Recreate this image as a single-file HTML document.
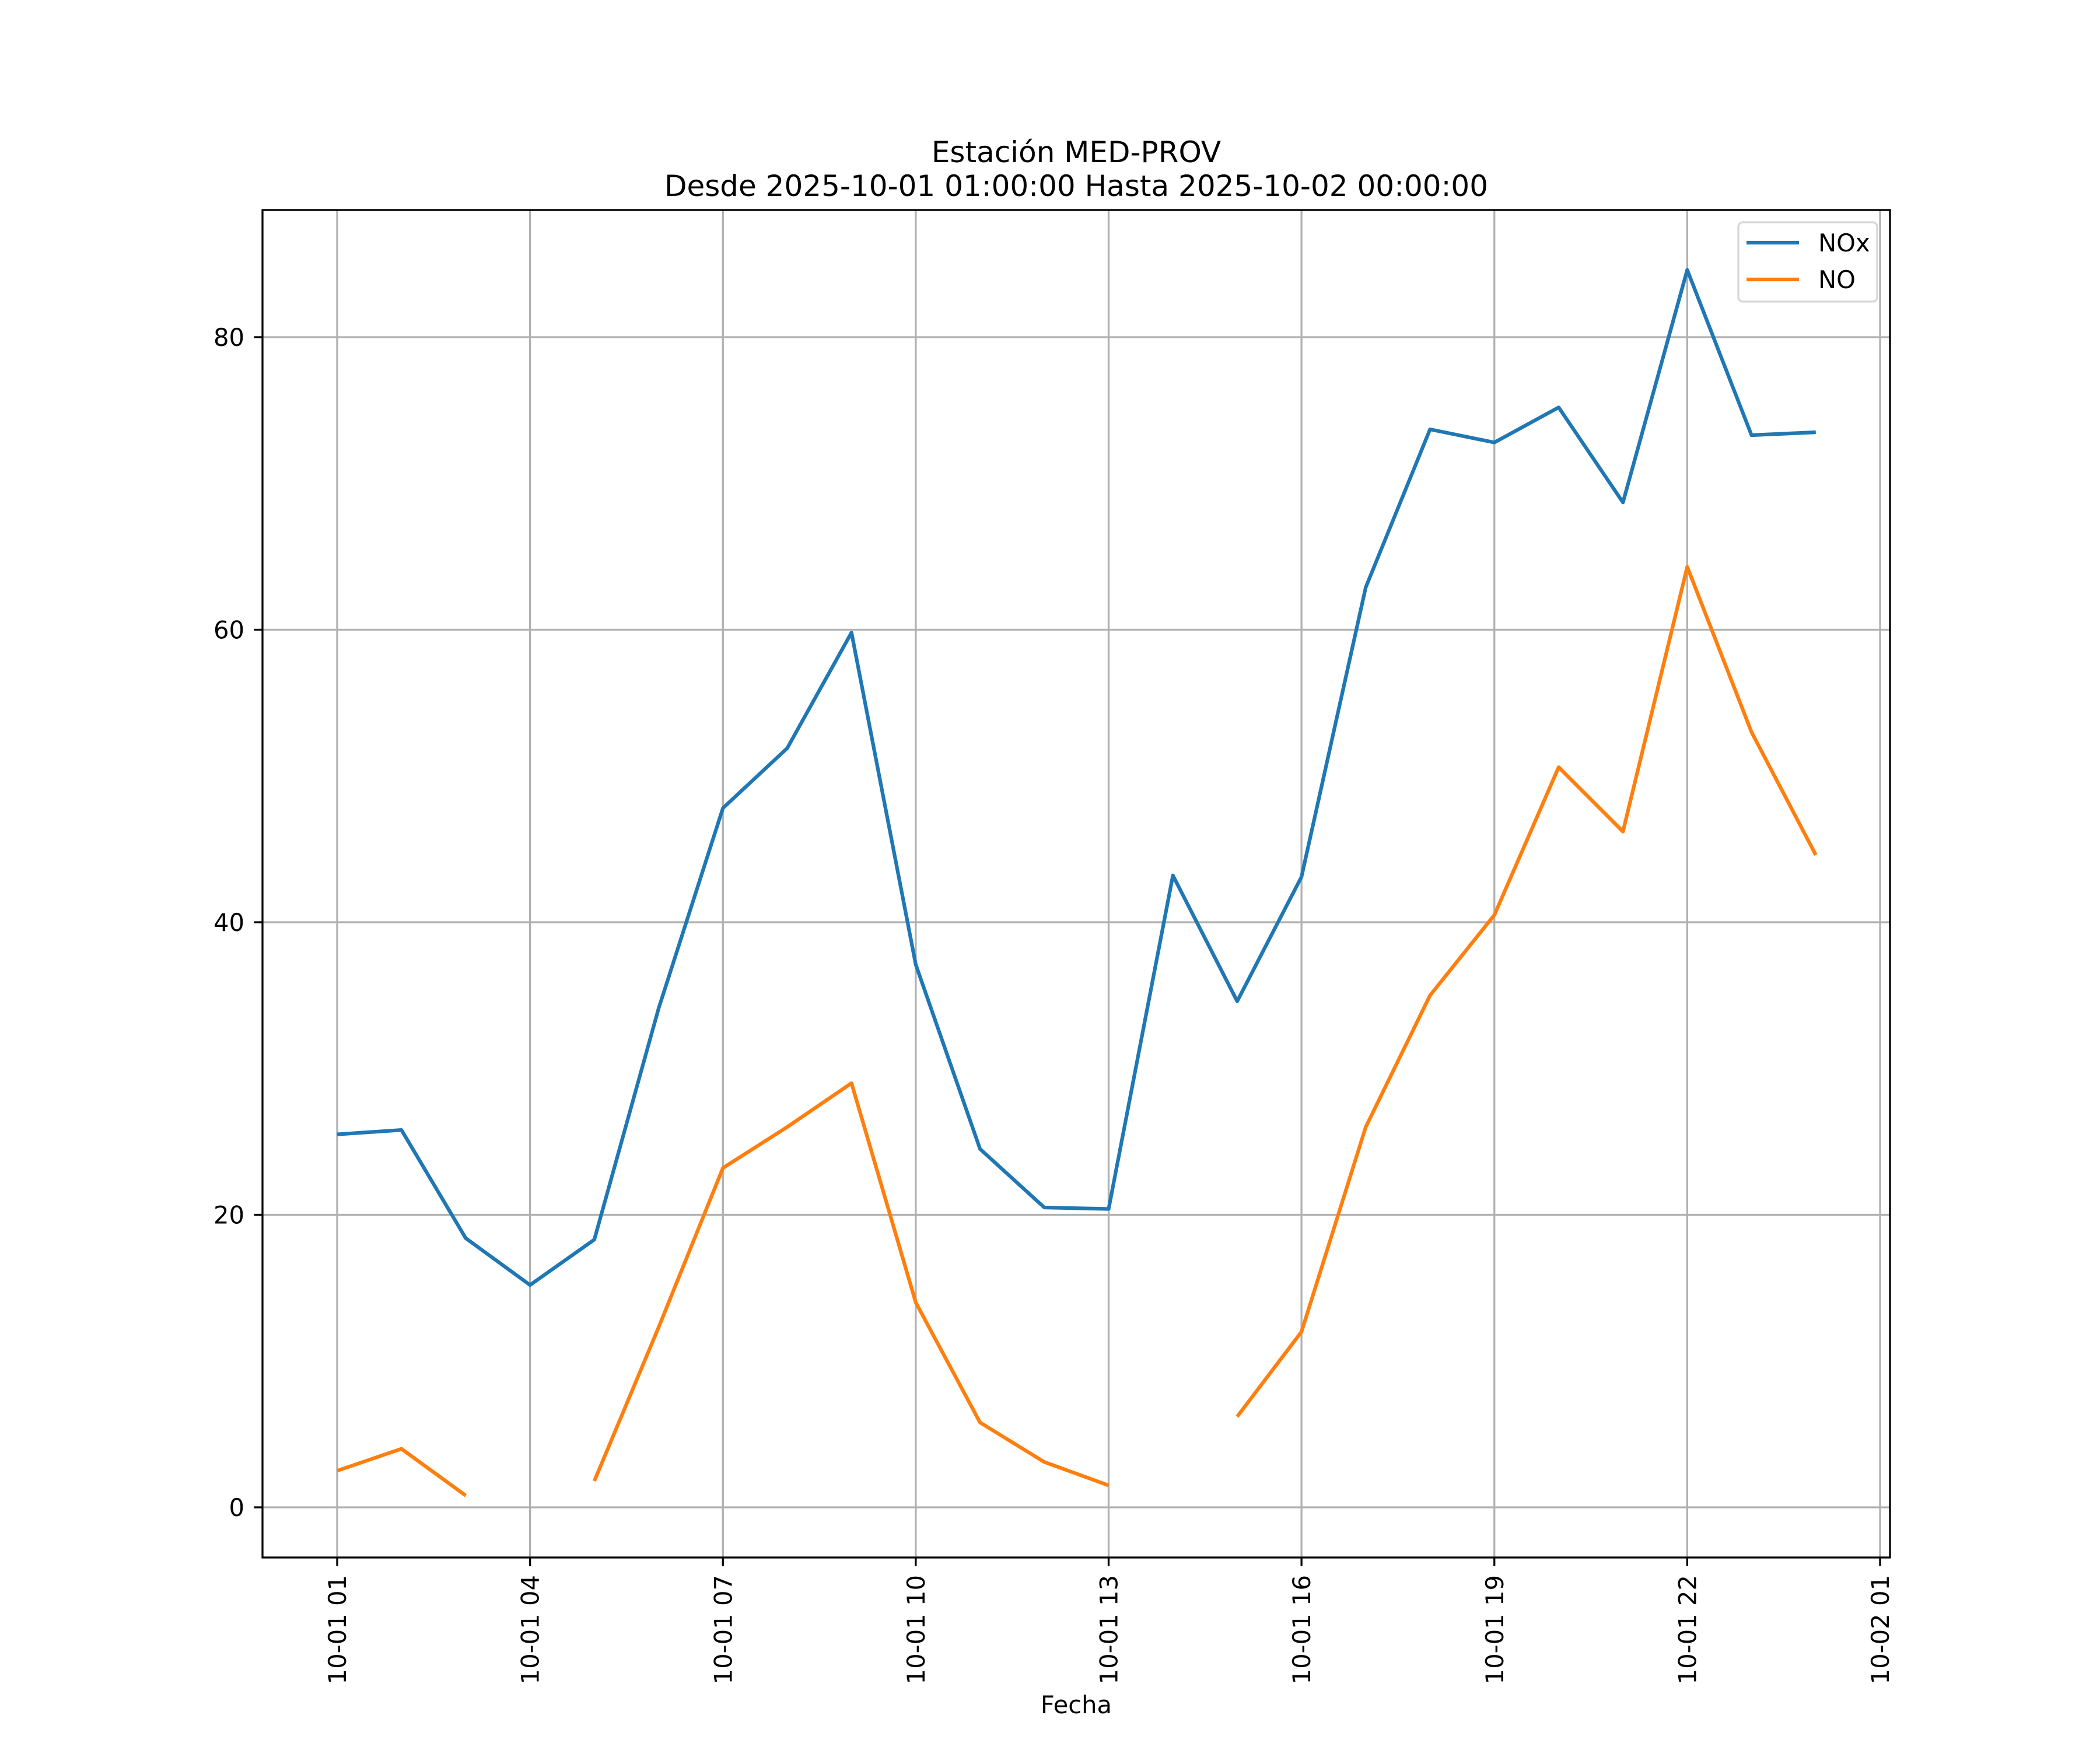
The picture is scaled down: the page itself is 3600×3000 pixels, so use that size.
<!DOCTYPE html>
<html><head><meta charset="utf-8"><style>
html,body{margin:0;padding:0;background:#fff;}
svg{display:block;font-family:"DejaVu Sans","Liberation Sans",sans-serif;}
</style></head><body>
<svg id="chart" width="3600" height="3000" viewBox="0 0 3600 3000" xmlns="http://www.w3.org/2000/svg">
<rect width="3600" height="3000" fill="#fff"/>
<text x="1845" y="278" font-size="50" text-anchor="middle">Estación MED-PROV</text>
<text x="1845" y="336" font-size="50" text-anchor="middle">Desde 2025-10-01 01:00:00 Hasta 2025-10-02 00:00:00</text>
<g id="grid"></g>
<g id="series"></g>
<rect x="450" y="360" width="2790" height="2310" fill="none" stroke="#000" stroke-width="3.3"/>
<g id="axes"></g>
<text x="1845" y="2937" font-size="41.7" text-anchor="middle">Fecha</text>
<g>
<rect x="2980" y="381" width="238" height="136" rx="8" fill="#fff" fill-opacity="0.8" stroke="#d6d6d6" stroke-width="3.3"/>
<line x1="2994" y1="416" x2="3084" y2="416" stroke="#1f77b4" stroke-width="6.25"/>
<text x="3117" y="431" font-size="41.7">NOx</text>
<line x1="2994" y1="479" x2="3084" y2="479" stroke="#ff7f0e" stroke-width="6.25"/>
<text x="3117" y="494" font-size="41.7">NO</text>
</g>
</svg>
<script>
const hours = [1,2,3,4,5,6,7,8,9,10,11,12,13,14,15,16,17,18,19,20,21,22,23,24];
const noxValues = [25.5,25.8,18.4,15.2,18.3,34.1,47.8,51.9,59.8,37.1,24.5,20.5,20.4,43.2,34.6,43.1,62.9,73.7,72.8,75.2,68.7,84.6,73.3,73.5];
const noValues = [2.5,4.0,0.8,null,1.8,12.3,23.2,26.0,29.0,14.0,5.8,3.1,1.5,null,6.2,12.0,26.0,35.0,40.5,50.6,46.2,64.3,53.0,44.6];
const yTicks = [0,20,40,60,80];
const xTickHours = [1,4,7,10,13,16,19,22,25];
const xTickLabels = ["10-01 01","10-01 04","10-01 07","10-01 10","10-01 13","10-01 16","10-01 19","10-01 22","10-02 01"];

const NS = "http://www.w3.org/2000/svg";
function xs(h){ return 578 + (h - 1) * (3223 - 578) / 24; }
function ys(v){ return 2584 - v * (2584 - 578) / 80; }
function mk(tag, attrs, parent){ const e = document.createElementNS(NS, tag); for (const k in attrs) e.setAttribute(k, attrs[k]); parent.appendChild(e); return e; }

const grid = document.getElementById('grid');
const axes = document.getElementById('axes');
const series = document.getElementById('series');

yTicks.forEach(v => {
  const y = ys(v);
  const g = mk('line', {x1:450, y1:y, x2:3240, y2:y, stroke:'#b0b0b0', 'stroke-width':3.3}, grid);
  
  
  const t = mk('line', {x1:435.4, y1:y, x2:450, y2:y, stroke:'#000', 'stroke-width':3.3}, axes);
  
  
  const l = mk('text', {x:419, y:y + 15, 'font-size':41.7, 'text-anchor':'end'}, axes);
  l.textContent = v;
  
  
});

xTickHours.forEach((h, i) => {
  const x = xs(h);
  const g = mk('line', {x1:x, y1:360, x2:x, y2:2670, stroke:'#b0b0b0', 'stroke-width':3.3}, grid);
  
  
  const t = mk('line', {x1:x, y1:2670, x2:x, y2:2684.6, stroke:'#000', 'stroke-width':3.3}, axes);
  
  
  const l = mk('text', {x:0, y:0, 'font-size':41.7, 'text-anchor':'end', transform:'translate(' + (x + 15) + ',2700) rotate(-90)'}, axes);
  l.textContent = xTickLabels[i];
  
  
});

function drawSeries(vals, color, name){
  let segs = [], cur = [];
  vals.forEach((v, i) => {
    if (v === null) { if (cur.length) segs.push(cur); cur = []; }
    else cur.push(xs(hours[i]).toFixed(1) + ',' + ys(v).toFixed(1));
  });
  if (cur.length) segs.push(cur);
  segs.forEach(s => {
    const p = mk('polyline', {points:s.join(' '), fill:'none', stroke:color, 'stroke-width':6.25, 'stroke-linejoin':'round', 'stroke-linecap':'butt'}, series);
    
    
  });
}
drawSeries(noxValues, '#1f77b4', 'nox-line');
drawSeries(noValues, '#ff7f0e', 'no-line');
</script>
</body></html>
